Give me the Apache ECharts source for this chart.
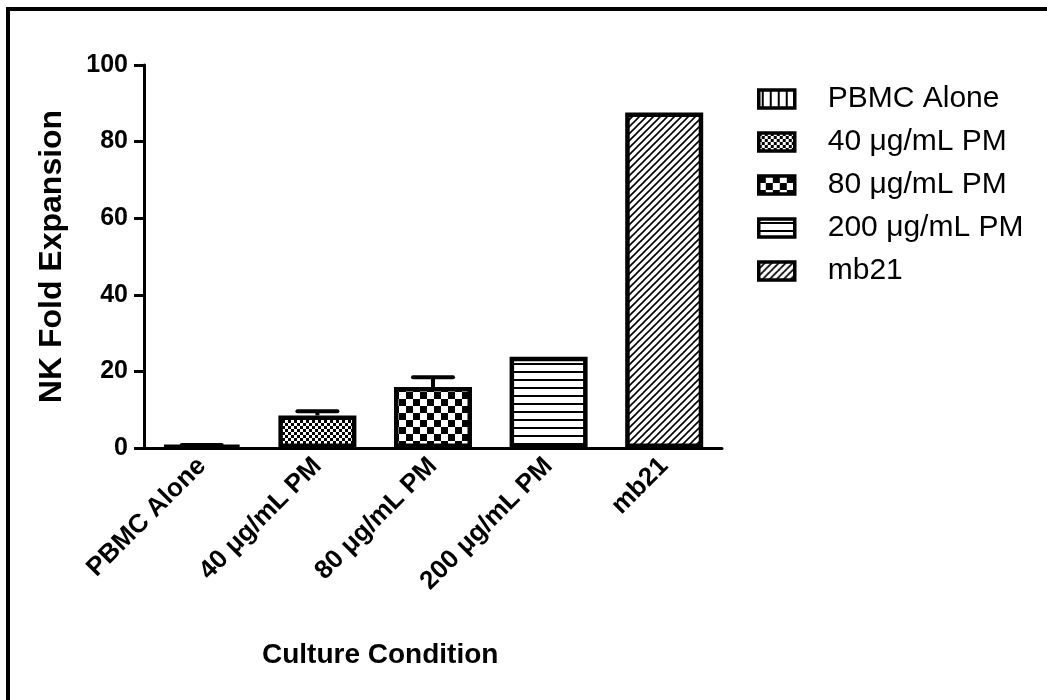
<!DOCTYPE html>
<html>
<head>
<meta charset="utf-8">
<script src="https://cdn.jsdelivr.net/npm/echarts@6/dist/echarts.min.js"></script>
<style>
  html, body { margin: 0; padding: 0; background: #fff; }
  #chart { width: 1047px; height: 700px; }
</style>
</head>
<body>
<div id="chart"></div>
<script>
// ---- data ----
const categories = ['PBMC Alone', '40 μg/mL PM', '80 μg/mL PM', '200 μg/mL PM', 'mb21'];
const values = [0.6, 8.5, 15.9, 23.8, 87.6];
const errors = [0.2, 1.1, 2.6, 0, 0];
const yTicks = [0, 20, 40, 60, 80, 100];
const xTitle = 'Culture Condition';
const yTitle = 'NK Fold Expansion';

const FONT = "'Liberation Sans', Arial, sans-serif";

function pattern(w, h, draw) {
  const c = document.createElement('canvas');
  c.width = w; c.height = h;
  const g = c.getContext('2d');
  g.fillStyle = '#fff'; g.fillRect(0, 0, w, h);
  g.fillStyle = '#000'; g.strokeStyle = '#000';
  draw(g, w, h);
  return { image: c, repeat: 'repeat' };
}
const patterns = [
  pattern(8, 8, (g) => { g.fillRect(3, 0, 2, 8); }),
  pattern(6, 6, (g) => { g.fillRect(0, 0, 3, 3); g.fillRect(3, 3, 3, 3); }),
  pattern(14, 14, (g) => { g.fillRect(0, 0, 7, 7); g.fillRect(7, 7, 7, 7); }),
  pattern(8, 8, (g) => { g.fillRect(0, 3, 8, 2); }),
  pattern(7, 7, (g) => {
    g.lineWidth = 1.6;
    g.beginPath();
    g.moveTo(-1, 8); g.lineTo(8, -1);
    g.moveTo(-1, 1); g.lineTo(1, -1);
    g.moveTo(6, 8); g.lineTo(8, 6);
    g.stroke();
  })
];

const barSeries = categories.map((name, i) => ({
  name: name,
  type: 'bar',
  stack: 'all',
  barWidth: 78,
  data: categories.map((c, j) => (j === i ? values[j] : '-')),
  itemStyle: { color: patterns[i], borderColor: '#000', borderWidth: 4.5 },
  z: 3
}));

const errData = categories.map((c, i) => [i, values[i], errors[i]]);

const chart = echarts.init(document.getElementById('chart'), null, { renderer: 'canvas' });
chart.setOption({
  animation: false,
  backgroundColor: '#fff',
  textStyle: { fontFamily: FONT },
  grid: { left: 144, right: 325, top: 65, bottom: 252, containLabel: false },
  legend: {
    data: categories,
    orient: 'vertical',
    left: 752,
    top: 79,
    itemWidth: 36,
    itemHeight: 18,
    itemGap: 13,
    icon: 'rect',
    itemStyle: { borderColor: '#000', borderWidth: 3.5 },
    textStyle: { fontFamily: FONT, fontSize: 30, color: '#000', padding: [0, 0, 0, 28] },
    selectedMode: false
  },
  xAxis: {
    type: 'category',
    data: categories,
    axisLine: { lineStyle: { color: '#000', width: 3 } },
    axisTick: { alignWithLabel: true, length: 9, lineStyle: { color: '#000', width: 3 } },
    axisLabel: {
      rotate: 45, margin: 14, color: '#000', fontFamily: FONT,
      fontWeight: 'bold', fontSize: 26, interval: 0
    },
    splitLine: { show: false }
  },
  yAxis: {
    type: 'value',
    min: yTicks[0],
    max: yTicks[yTicks.length - 1],
    interval: 20,
    name: yTitle,
    nameLocation: 'middle',
    nameGap: 76,
    nameTextStyle: { fontFamily: FONT, fontWeight: 'bold', fontSize: 32, color: '#000' },
    axisLine: { show: true, lineStyle: { color: '#000', width: 3 } },
    axisTick: { show: true, length: 10, lineStyle: { color: '#000', width: 3 } },
    axisLabel: { margin: 16, color: '#000', fontFamily: FONT, fontWeight: 'bold', fontSize: 25 },
    splitLine: { show: false }
  },
  series: barSeries.concat([{
    name: 'error',
    type: 'custom',
    data: errData,
    z: 4,
    renderItem: function (params, api) {
      const err = api.value(2);
      if (!err) return null;
      const base = api.coord([api.value(0), api.value(1)]);
      const top = api.coord([api.value(0), api.value(1) + err]);
      const hw = 20;
      return {
        type: 'group',
        children: [
          { type: 'line', shape: { x1: base[0], y1: base[1], x2: top[0], y2: top[1] }, style: { stroke: '#000', lineWidth: 4 } },
          { type: 'line', shape: { x1: top[0] - hw, y1: top[1], x2: top[0] + hw, y2: top[1] }, style: { stroke: '#000', lineWidth: 4, lineCap: 'round' } }
        ]
      };
    }
  }]),
  graphic: [
    { type: 'line', shape: { x1: 8, y1: 7, x2: 8, y2: 700 }, style: { stroke: '#000', lineWidth: 4 } },
    { type: 'line', shape: { x1: 6, y1: 9, x2: 1047, y2: 9 }, style: { stroke: '#000', lineWidth: 4 } },
    {
      type: 'text', left: 262, top: 641,
      style: { text: xTitle, fontFamily: FONT, fontWeight: 'bold', fontSize: 28, fill: '#000' }
    }
  ]
});
</script>
</body>
</html>
